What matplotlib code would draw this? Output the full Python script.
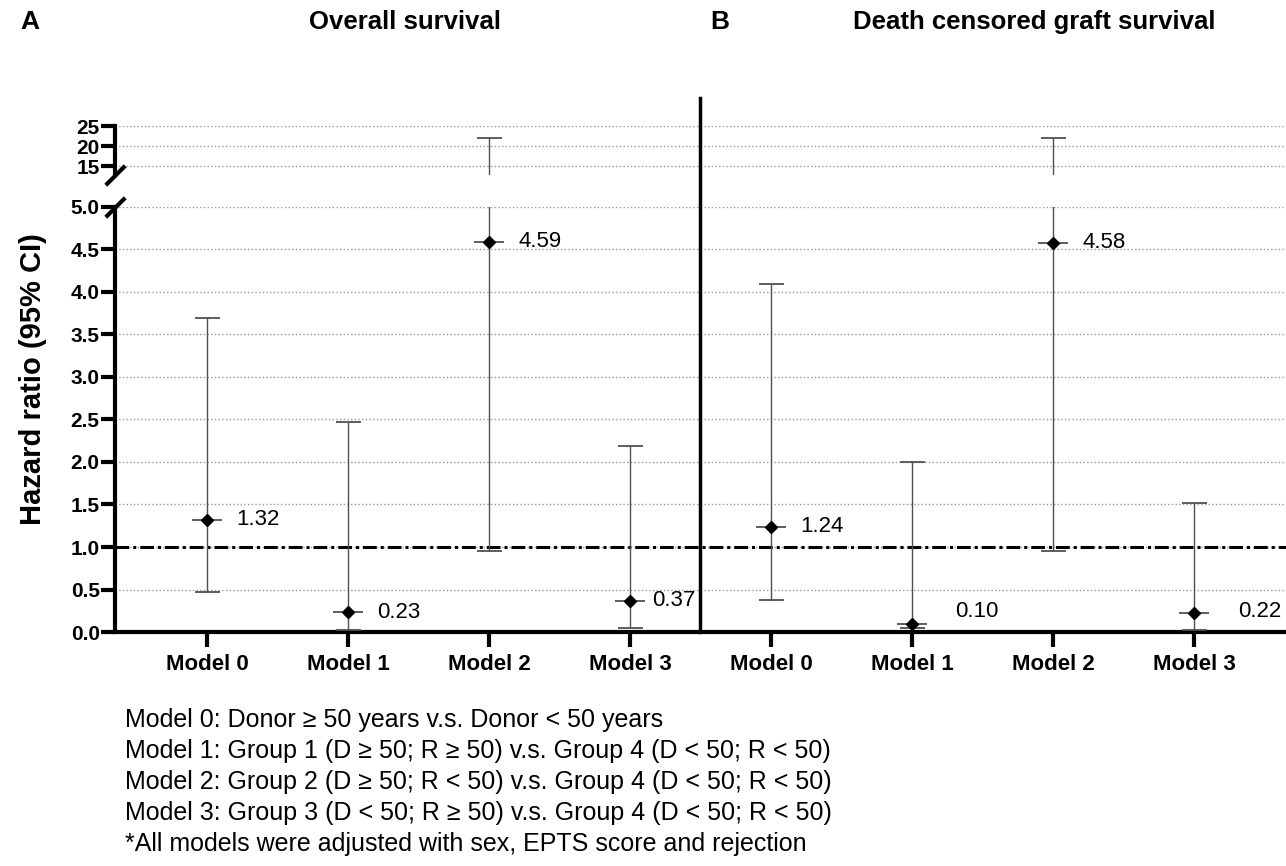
import numpy as np
import matplotlib
matplotlib.use('Agg')
import matplotlib.pyplot as plt
from matplotlib.transforms import blended_transform_factory

plt.rcParams['font.family'] = ['Liberation Sans', 'DejaVu Sans']

# data: hazard ratios with 95% CI, panel A (overall) then panel B (death censored)
models = ['Model 0', 'Model 1', 'Model 2', 'Model 3']
hr_os = [1.32, 0.23, 4.59, 0.37]
lo_os = [0.47, 0.02, 0.95, 0.05]
hi_os = [3.69, 2.47, 22.0, 2.19]
hr_dc = [1.24, 0.10, 4.58, 0.22]
lo_dc = [0.38, 0.05, 0.95, 0.02]
hi_dc = [4.09, 2.00, 22.0, 1.52]
hr_labels = ['1.32', '0.23', '4.59', '0.37', '1.24', '0.10', '4.58', '0.22']
# label offsets (points) so text sits like in the original
lab_dx = [21, 21, 21, 16, 21, 31, 21, 32]
lab_dy = [0, 0, 0, 0, 0, 9, 0, 1]

footnote = ['Model 0: Donor \u2265 50 years v.s. Donor < 50 years',
            'Model 1: Group 1 (D \u2265 50; R \u2265 50) v.s. Group 4 (D < 50; R < 50)',
            'Model 2: Group 2 (D \u2265 50; R < 50) v.s. Group 4 (D < 50; R < 50)',
            'Model 3: Group 3 (D < 50; R \u2265 50) v.s. Group 4 (D < 50; R < 50)',
            '*All models were adjusted with sex, EPTS score and rejection']

hr = np.array(hr_os + hr_dc)
lo = np.array(lo_os + lo_dc)
hi = np.array(hi_os + hi_dc)
x = np.arange(len(hr))

fig = plt.figure(figsize=(12.86, 8.66), dpi=100)
ax_top = fig.add_axes([0.0894, 0.7979, 0.9106, 0.0566])
ax_bot = fig.add_axes([0.0894, 0.2702, 0.9106, 0.4908])

for ax in (ax_top, ax_bot):
    ax.errorbar(x, hr, yerr=[hr - lo, hi - hr], fmt='none', ecolor='#505050',
                elinewidth=1.0, capsize=9, capthick=1.3, zorder=3)
    ax.plot(x, hr, ls='none', marker='_', ms=22, mew=1.3, color='#505050', zorder=4)
    ax.plot(x, hr, ls='none', marker='D', ms=6.5, color='black', zorder=5)
    ax.grid(axis='y', linestyle=':', color='#999999', linewidth=1.0, zorder=0)
    ax.set_xlim(-0.652, 7.652)
    ax.spines['top'].set_visible(False)
    ax.spines['right'].set_visible(False)
    ax.spines['left'].set_linewidth(3)
    ax.tick_params(axis='y', length=10, width=3, labelsize=15, pad=1)

ax_top.set_ylim(12.75, 25)
ax_top.set_yticks([15, 20, 25])
ax_top.set_yticklabels(['15', '20', '25'], fontweight='bold')
ax_top.spines['bottom'].set_visible(False)
ax_top.tick_params(axis='x', bottom=False, labelbottom=False)

ax_bot.set_ylim(0, 5.0)
yt = np.arange(0, 5.01, 0.5)
ax_bot.set_yticks(yt)
ax_bot.set_yticklabels(['%.1f' % v for v in yt], fontweight='bold')
ax_bot.spines['bottom'].set_linewidth(3)
ax_bot.set_xticks(x)
ax_bot.set_xticklabels(models * 2, fontweight='bold', fontsize=16)
ax_bot.tick_params(axis='x', length=11, width=3, pad=5)

# reference line at HR = 1
ax_bot.axhline(1.0, color='black', lw=2.2, ls=(0, (4.5, 1.3, 1, 1.3)), zorder=2)

# value labels
for i in range(len(hr)):
    ax_bot.annotate(hr_labels[i], (x[i], hr[i]), xytext=(lab_dx[i], lab_dy[i]),
                    textcoords='offset points', ha='left', va='center', fontsize=16)

# axis break marks
kw = dict(marker=[(-1, -1), (1, 1)], markersize=14, ls='none', color='black',
          mec='black', mew=3, clip_on=False)
ax_top.plot([0], [0], transform=ax_top.transAxes, **kw)
ax_bot.plot([0], [1], transform=ax_bot.transAxes, **kw)

# separator between panels
tr = blended_transform_factory(ax_bot.transData, fig.transFigure)
ax_bot.plot([3.5, 3.5], [0.2702, 0.887], transform=tr, color='black', lw=2.5,
            clip_on=False, zorder=6)

fig.text(0.026, 0.5624, 'Hazard ratio (95% CI)', rotation=90, ha='center', va='center',
         fontsize=21, fontweight='bold')
fig.text(0.0233, 0.9746, 'A', ha='center', va='center', fontsize=19, fontweight='bold')
fig.text(0.3146, 0.9746, 'Overall survival', ha='center', va='center', fontsize=18.5,
         fontweight='bold')
fig.text(0.5599, 0.9746, 'B', ha='center', va='center', fontsize=19, fontweight='bold')
fig.text(0.8040, 0.9746, 'Death censored graft survival', ha='center', va='center',
         fontsize=18.5, fontweight='bold')

for k, line in enumerate(footnote):
    fig.text(0.0972, 0.1686 - k * 0.0358, line, ha='left', va='center', fontsize=18)

fig.savefig('out.png', dpi=100)
